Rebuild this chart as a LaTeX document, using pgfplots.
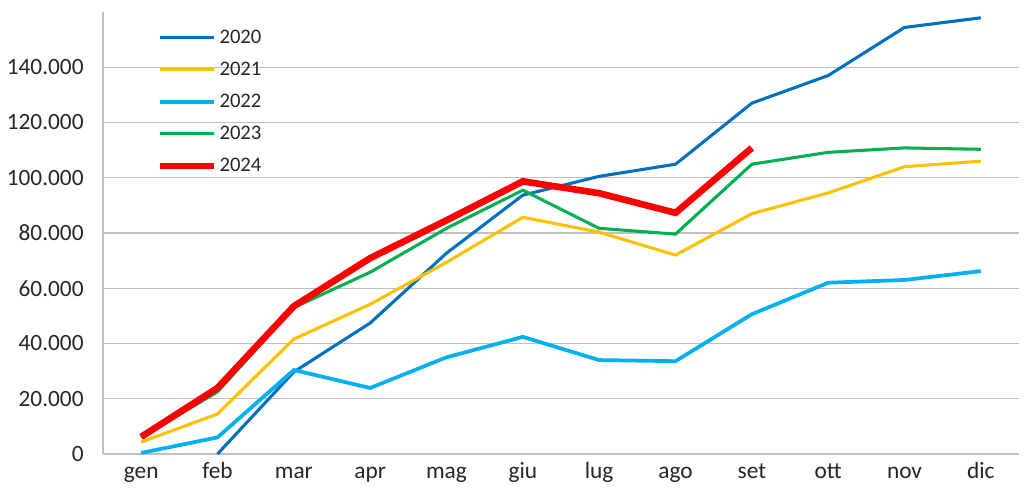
\documentclass[border=0pt]{standalone}
\usepackage{pgfplots}
\pgfplotsset{compat=1.18}
\usepackage{fontspec}
\setmainfont{Carlito}
\definecolor{c20}{HTML}{0070C0}
\definecolor{c21}{HTML}{FFC000}
\definecolor{c22}{HTML}{00B0F0}
\definecolor{c23}{HTML}{00B050}
\definecolor{c24}{HTML}{FF0000}
\definecolor{gridc}{HTML}{BFBFBF}
\definecolor{txt}{HTML}{262626}
\begin{document}
\begin{tikzpicture}[x=0.75pt,y=0.75pt]
\path[use as bounding box] (0,0) rectangle (1024,500);
\begin{axis}[
  at={(77.25pt,34.5pt)}, anchor=south west,
  scale only axis,
  width=687pt, height=331.5pt,
  xmin=-0.5, xmax=11.5,
  ymin=0, ymax=160000,
  xtick={0,...,11},
  xticklabels={gen,feb,mar,apr,mag,giu,lug,ago,set,ott,nov,dic},
  ytick={0,20000,40000,60000,80000,100000,120000,140000},
  yticklabels={0,20.000,40.000,60.000,80.000,100.000,120.000,140.000},
  ticklabel style={font=\fontsize{17.5}{19}\selectfont, text=txt},
  major tick length=0pt,
  ymajorgrids, grid style={gridc, line width=1pt},
  axis x line*=bottom, axis y line*=left,
  axis line style={gridc, line width=1pt, -},
  x axis line style={draw=none},
  xticklabel style={yshift=-7pt, text height=1.6ex, text depth=0.4ex},
  yticklabel style={xshift=-11pt},
  legend style={at={(0.0585,0.972)}, anchor=north west, draw=none, fill=none,
    font=\fontsize{15.5}{17}\selectfont, text=txt, row sep=8.5pt,
    legend cell align=left, inner xsep=0pt},
  legend image code/.code={\draw[#1] (0pt,0pt) -- (40pt,0pt);},
  clip=true,
]
\addplot[c20, line width=2.3pt] coordinates {(1,0) (2,29700) (3,47400) (4,72700) (5,93700) (6,100500) (7,104900) (8,127000) (9,137000) (10,154400) (11,157900)};
\addlegendentry{2020}
\addplot[c21, line width=2.3pt] coordinates {(0,4300) (1,14500) (2,41600) (3,54200) (4,69400) (5,85700) (6,80300) (7,72000) (8,87000) (9,94500) (10,104000) (11,106000)};
\addlegendentry{2021}
\addplot[c22, line width=2.8pt] coordinates {(0,400) (1,6000) (2,30400) (3,23900) (4,35000) (5,42400) (6,34000) (7,33600) (8,50600) (9,62000) (10,63000) (11,66200)};
\addlegendentry{2022}
\addplot[c23, line width=2.3pt] coordinates {(0,6000) (1,22500) (2,53000) (3,65800) (4,81700) (5,95500) (6,81700) (7,79600) (8,104900) (9,109200) (10,110800) (11,110300)};
\addlegendentry{2023}
\addplot[c24, line width=5pt] coordinates {(0,6200) (1,23900) (2,53500) (3,70900) (4,84600) (5,98700) (6,94400) (7,87300) (8,110800)};
\addlegendentry{2024}
\end{axis}
\end{tikzpicture}
\end{document}
